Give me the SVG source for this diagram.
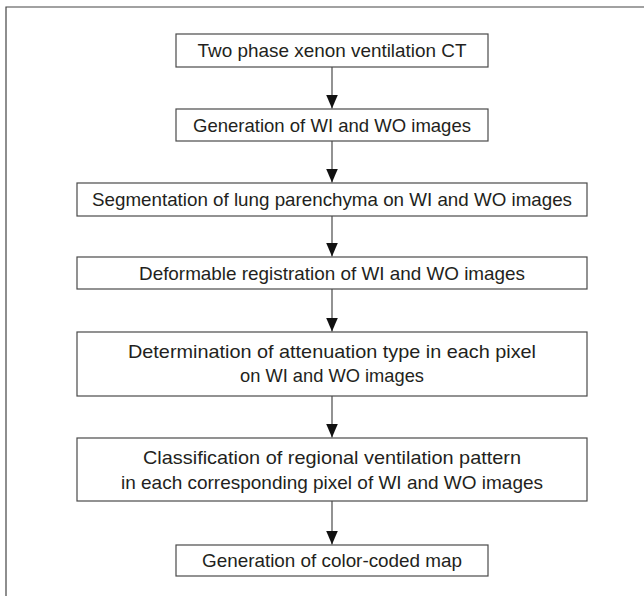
<svg xmlns="http://www.w3.org/2000/svg" width="644" height="596" viewBox="0 0 644 596">
<style>
.box{fill:#fff;stroke:#4a4a4a;stroke-width:1.2}
.t{font-family:"Liberation Sans",Arial,sans-serif;font-size:18.5px;fill:#231f20;text-anchor:middle}
.c{stroke:#4a4a4a;stroke-width:1.2;fill:none}
</style>
<defs>
<marker id="ah" markerWidth="14" markerHeight="12" refX="14" refY="6" orient="auto" markerUnits="userSpaceOnUse" viewBox="0 0 14 12">
<path d="M0,0 L14,6 L0,12 Z" fill="#111"/>
</marker>
</defs>
<rect width="644" height="596" fill="#fff"/>
<path d="M6,596 V7 H644" fill="none" stroke="#444" stroke-width="1.2"/>
<g id="connectors">
<line class="c" x1="332" y1="67" x2="332" y2="108.5" marker-end="url(#ah)"/>
<line class="c" x1="332" y1="141" x2="332" y2="182.5" marker-end="url(#ah)"/>
<line class="c" x1="332" y1="216" x2="332" y2="256.5" marker-end="url(#ah)"/>
<line class="c" x1="332" y1="289" x2="332" y2="331.5" marker-end="url(#ah)"/>
<line class="c" x1="332" y1="396" x2="332" y2="437.5" marker-end="url(#ah)"/>
<line class="c" x1="332" y1="501" x2="332" y2="544.5" marker-end="url(#ah)"/>
</g>
<g id="n1"><rect class="box" x="176" y="34" width="312" height="33"/><text class="t" x="332" y="57" textLength="269" lengthAdjust="spacingAndGlyphs">Two phase xenon ventilation CT</text></g>
<g id="n2"><rect class="box" x="176" y="109" width="312" height="32"/><text class="t" x="332" y="131.5" textLength="278" lengthAdjust="spacingAndGlyphs">Generation of WI and WO images</text></g>
<g id="n3"><rect class="box" x="77" y="183" width="510" height="33"/><text class="t" x="332" y="206" textLength="480" lengthAdjust="spacingAndGlyphs">Segmentation of lung parenchyma on WI and WO images</text></g>
<g id="n4"><rect class="box" x="77" y="257" width="510" height="32"/><text class="t" x="332" y="279.5" textLength="386" lengthAdjust="spacingAndGlyphs">Deformable registration of WI and WO images</text></g>
<g id="n5"><rect class="box" x="77" y="332" width="510" height="64"/><text class="t" x="332" y="358" textLength="408" lengthAdjust="spacingAndGlyphs">Determination of attenuation type in each pixel</text><text class="t" x="332" y="382" textLength="184" lengthAdjust="spacingAndGlyphs">on WI and WO images</text></g>
<g id="n6"><rect class="box" x="77" y="438" width="510" height="63"/><text class="t" x="332" y="464" textLength="378" lengthAdjust="spacingAndGlyphs">Classification of regional ventilation pattern</text><text class="t" x="332" y="489" textLength="422" lengthAdjust="spacingAndGlyphs">in each corresponding pixel of WI and WO images</text></g>
<g id="n7"><rect class="box" x="176" y="545" width="312" height="31"/><text class="t" x="332" y="567" textLength="260" lengthAdjust="spacingAndGlyphs">Generation of color-coded map</text></g>
</svg>
